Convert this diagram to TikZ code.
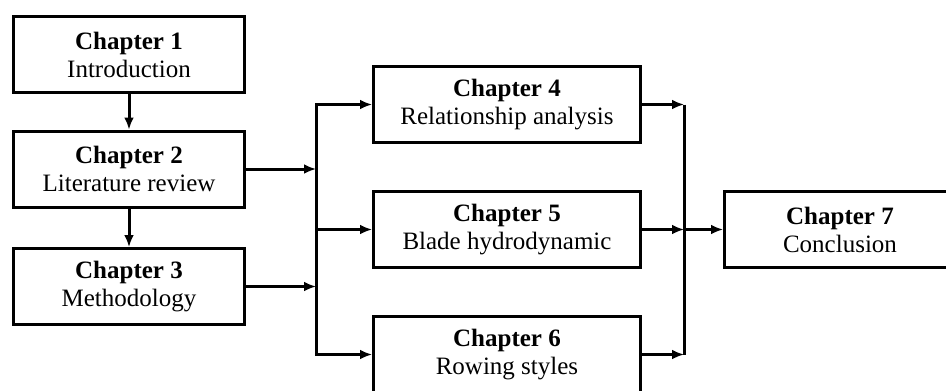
\documentclass[tikz,border=0pt]{standalone}
\usepackage{fontspec}
\setmainfont{Liberation Serif}
\usetikzlibrary{arrows.meta}

\begin{document}
\begin{tikzpicture}[x=1pt, y=-1pt, >={Latex[length=12pt,width=10pt]}, line width=3pt,
	every node/.style={font=\fontsize{25}{28}\selectfont},
	chap/.style={draw, line width=3pt, align=center, inner sep=0pt, minimum height=76pt, minimum width=231pt},
	wide/.style={chap, minimum width=267pt}]
	\useasboundingbox (0,0) rectangle (946,391);
	\clip (0,0) rectangle (946,391);
	% left column
	\node[chap] (ch1) at (129,54.5) {\textbf{Chapter 1}\\Introduction};
	\node[chap] (ch2) at (129,169) {\textbf{Chapter 2}\\Literature review};
	\node[chap] (ch3) at (129,286.5) {\textbf{Chapter 3}\\Methodology};
	% middle column
	\node[wide] (ch4) at (507,104.5) {\textbf{Chapter 4}\\Relationship analysis};
	\node[wide] (ch5) at (507,229.5) {\textbf{Chapter 5}\\Blade hydrodynamic};
	\node[wide] (ch6) at (507,354.5) {\textbf{Chapter 6}\\Rowing styles};
	% right
	\node[chap] (ch7) at (840,229.5) {\textbf{Chapter 7}\\Conclusion};
	\coordinate (lbus) at (316,0);
	\coordinate (rbus) at (684,0);
	\draw[->] (ch1) -- (ch2);
	\draw[->] (ch2) -- (ch3);
	\draw[->] (ch2.east) -- (ch2.east -| lbus);
	\draw[->] (ch3.east) -- (ch3.east -| lbus);
	\draw[->] (lbus |- ch6) |- (ch4.west);
	\draw[->] (lbus |- ch4) |- (ch6.west);
	\draw[->] (lbus |- ch5) -- (ch5.west);
	\foreach \c in {ch4,ch5,ch6} {\draw[->] (\c.east) -- (\c.east -| rbus);}
	\draw (rbus |- ch4) -- (rbus |- ch6);
	\draw[->] (rbus |- ch7) -- (ch7.west);
\end{tikzpicture}
\end{document}
